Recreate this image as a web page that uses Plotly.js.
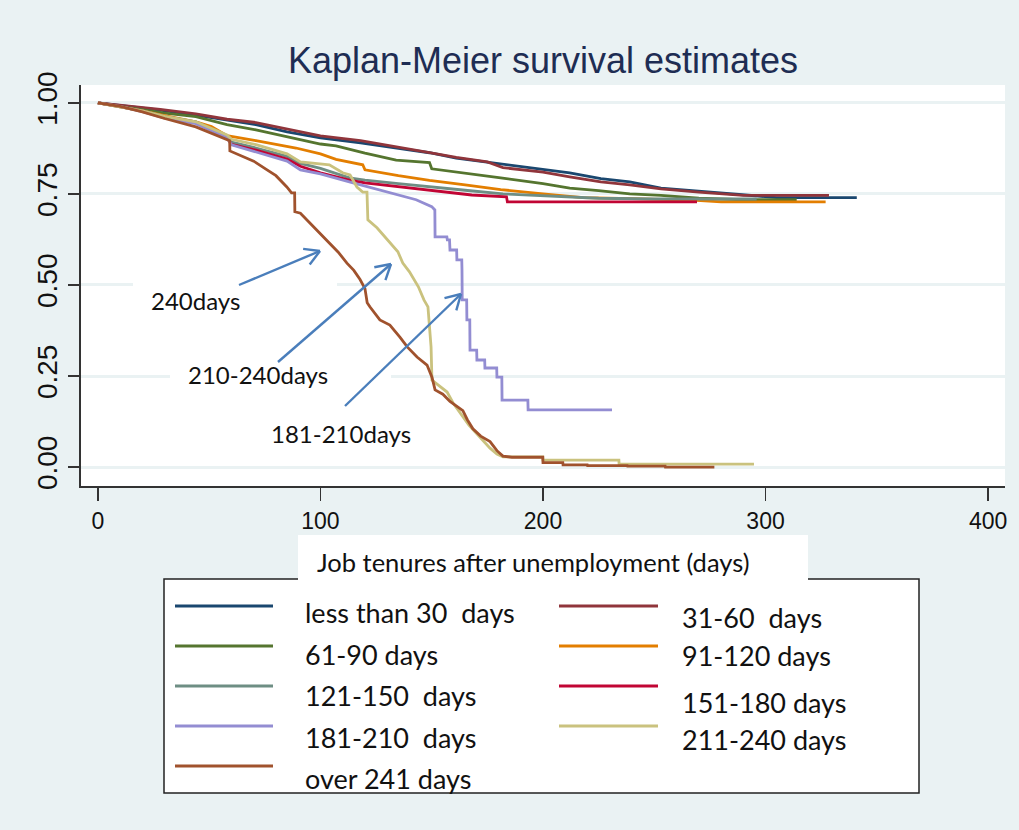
<!DOCTYPE html>
<html><head><meta charset="utf-8">
<script src="https://cdn.plot.ly/plotly-3.0.1.min.js"></script>
<style>html,body{margin:0;padding:0;background:#eaf2f3}</style>
</head><body>
<div id="chart" style="width:1019px;height:830px"></div>
<script>
// ---------- data (corners of visible steps are listed twice) ----------
const seriesNames = ["less than 30\u00a0 days","31-60\u00a0 days","61-90 days","91-120 days",
  "121-150\u00a0 days","151-180 days","181-210\u00a0 days","211-240 days","over 241 days"];
const seriesColors = ["#1a476f","#90353b","#55752f","#e37e00","#6e8e84","#c10534","#938dd2","#cac27e","#a0522d"];

const t_lt30 = [0,10,28,44,58,71,85,100,118,134,149,161,181,200,212,226,239,253,270,290,305,341];
const s_lt30 = [1,0.993,0.98,0.966,0.952,0.94,0.92,0.904,0.89,0.875,0.863,0.848,0.833,0.817,0.808,0.792,0.783,0.766,0.757,0.748,0.740,0.740];

const t_31_60 = [0,10,28,44,58,71,85,100,118,134,149,161,175,182,200,212,226,239,253,270,290,328.5];
const s_31_60 = [1,0.994,0.982,0.97,0.955,0.946,0.928,0.909,0.896,0.88,0.863,0.85,0.838,0.822,0.81,0.797,0.783,0.775,0.764,0.755,0.746,0.746];

const t_61_90 = [0,10,20,30,44,58,71,86,100,107,120,134,149,150,165,181,200,212,225,239,253,270,290,314];
const s_61_90 = [1,0.99,0.98,0.972,0.962,0.94,0.926,0.905,0.887,0.882,0.862,0.843,0.836,0.819,0.806,0.794,0.778,0.766,0.759,0.75,0.746,0.738,0.734,0.734];

const t_91_120 = [0,10,20,30,44,51,58,71,89,100,107,119,120,135,149,165,181,200,218,240,269,280,327];
const s_91_120 = [1,0.99,0.978,0.965,0.948,0.935,0.91,0.896,0.876,0.86,0.845,0.83,0.816,0.8,0.787,0.775,0.762,0.75,0.74,0.737,0.732,0.728,0.728];

const t_121_150 = [0,10,20,30,44,58,60,71,85,91,100,113,120,135,149,165,182,200,225,250,296];
const s_121_150 = [1,0.99,0.978,0.962,0.948,0.908,0.892,0.876,0.853,0.834,0.82,0.794,0.788,0.778,0.769,0.76,0.75,0.745,0.738,0.736,0.736];

const t_151_180 = [0,10,20,30,44,58,60,71,85,91,100,113,120,135,149,168,183.6,184,269.2];
const s_151_180 = [1,0.99,0.977,0.961,0.946,0.904,0.886,0.87,0.846,0.826,0.808,0.788,0.78,0.77,0.761,0.747,0.742,0.728,0.728];

const t_181_210 = [0,10,20,30,44,58,60,71,85,91,100,113,131,143,150,151.4,151.5,156.8,157,158,158.2,161.2,161.3,163.5,163.6,163.7,165.7,165.8,167.1,167.2,170.2,170.3,173.8,173.9,179.2,179.3,181.5,181.6,193.2,193.3,231];
const s_181_210 = [1,0.99,0.976,0.958,0.943,0.905,0.885,0.866,0.84,0.816,0.805,0.783,0.753,0.734,0.715,0.706,0.632,0.632,0.624,0.624,0.596,0.596,0.569,0.569,0.541,0.459,0.459,0.404,0.404,0.321,0.321,0.294,0.294,0.272,0.272,0.247,0.247,0.184,0.184,0.157,0.157];

const t_211_240 = [0,10,20,30,44,58,60,71,85,91,104,110,113.3,116.4,119,120.9,121,121.3,125.4,130.3,134.8,137,140,144,146.5,148.3,148.8,149.7,150.1,152.4,156.9,159.6,163.6,166.7,171.7,176.2,179.3,182,199.9,200,234.1,234.2,294.8];
const s_211_240 = [1,0.99,0.978,0.963,0.948,0.912,0.9,0.885,0.86,0.838,0.83,0.808,0.802,0.769,0.755,0.755,0.706,0.679,0.657,0.624,0.591,0.56,0.536,0.495,0.459,0.44,0.396,0.33,0.239,0.228,0.206,0.176,0.143,0.115,0.082,0.052,0.036,0.028,0.028,0.019,0.019,0.008,0.008];

const t_over241 = [0,10,20,30,44,52,58,59.2,59.3,63.8,70,76,80,84.9,87,88.4,88.5,91,95.3,100,104.3,108,111.9,115,117.8,120,121,122.2,126.7,131.2,135.7,139,143.4,147.9,150.1,151.5,155,158.2,164,166,168.5,172,176.2,179.3,182,186,199.9,200,208.9,209,219.9,220,237.9,238,254.9,255,277];
const s_over241 = [1,0.99,0.975,0.957,0.934,0.915,0.9,0.896,0.868,0.857,0.84,0.816,0.8,0.769,0.753,0.753,0.701,0.697,0.67,0.64,0.615,0.59,0.56,0.54,0.515,0.49,0.451,0.44,0.404,0.39,0.357,0.33,0.302,0.28,0.247,0.212,0.2,0.18,0.155,0.13,0.105,0.085,0.07,0.045,0.03,0.027,0.027,0.012,0.012,0.006,0.006,0.004,0.004,0.0025,0.0025,0,0];

const seriesT = [t_lt30,t_31_60,t_61_90,t_91_120,t_121_150,t_151_180,t_181_210,t_211_240,t_over241];
const seriesS = [s_lt30,s_31_60,s_61_90,s_91_120,s_121_150,s_151_180,s_181_210,s_211_240,s_over241];

const xTicks = [0,100,200,300,400];
const yTicks = [0,0.25,0.5,0.75,1];
const yTickText = ["0.00","0.25","0.50","0.75","1.00"];

const chartTitle = "Kaplan-Meier survival estimates";
const xTitle = "Job tenures after unemployment (days)";
const callouts = ["240days","210-240days","181-210days"];

// ---------- layout helpers (pixel -> paper) ----------
const L=81, R=1005, T=85, B=486;
const px = x => (x-L)/(R-L);
const py = y => (B-y)/(B-T);

const traces = seriesNames.map((n,i)=>({
  type:'scatter', mode:'lines', name:n, x:seriesT[i], y:seriesS[i],
  line:{color:seriesColors[i], width:2.8, shape:'linear'}, showlegend:false, hoverinfo:'skip'
}));

const shapes = [];
const annotations = [];

// white boxes behind callout texts (they hide the gridlines)
shapes.push({type:'rect', xref:'paper', yref:'paper', x0:px(133), x1:px(337), y0:py(322), y1:py(280),
  fillcolor:'white', line:{width:0}, layer:'above'});
shapes.push({type:'rect', xref:'paper', yref:'paper', x0:px(170), x1:px(391), y0:py(395), y1:py(355),
  fillcolor:'white', line:{width:0}, layer:'above'});

// legend box
shapes.push({type:'rect', xref:'paper', yref:'paper', x0:px(164), x1:px(919), y0:py(793), y1:py(579),
  fillcolor:'white', line:{color:'#222', width:1.5}});
// white box of axis title
shapes.push({type:'rect', xref:'paper', yref:'paper', x0:px(298), x1:px(808), y0:py(580.5), y1:py(535),
  fillcolor:'white', line:{width:0}});

const lineRows = [606,646,686,726,766];
const textRowsL = [612,654,695,737,778];
const textRowsR = [617,655,702,740];
seriesNames.forEach((n,i)=>{
  const col = i%2, row = Math.floor(i/2);
  const lx0 = col===0 ? 175 : 559, lx1 = col===0 ? 273 : 658;
  const ly = lineRows[row];
  shapes.push({type:'line', xref:'paper', yref:'paper', x0:px(lx0), x1:px(lx1), y0:py(ly), y1:py(ly),
    line:{color:seriesColors[i], width:3}});
  annotations.push({xref:'paper', yref:'paper', x:px(col===0?303:680), y:py(col===0?textRowsL[row]:textRowsR[row]),
    xanchor:'left', yanchor:'middle', showarrow:false, text:n,
    font:{family:'Lato, sans-serif', size:27, color:'#111'}});
});

// axis title
annotations.push({xref:'paper', yref:'paper', x:px(315), y:py(562), xanchor:'left', yanchor:'middle',
  showarrow:false, text:xTitle, font:{family:'Lato, sans-serif', size:25.5, color:'#111'}});

// callout texts
const calloutPos = [[44.0,0.456],[71.9,0.255],[109.2,0.093]];
callouts.forEach((c,i)=>annotations.push({xref:'x', yref:'y', x:calloutPos[i][0], y:calloutPos[i][1],
  showarrow:false, text:c, font:{family:'Lato, sans-serif', size:24, color:'#111'}}));

// arrows, in page pixels: [headX, headY, tailX, tailY]; open V heads drawn as two short lines
const arrowPix = [[320,251,239,285],[391,264,278,362],[461,294,345,406]];
const arrowColor = '#4a7ebb';
arrowPix.forEach(a=>{
  const [hx,hy,tx,ty] = a;
  shapes.push({type:'line', xref:'paper', yref:'paper', x0:px(tx), y0:py(ty), x1:px(hx), y1:py(hy),
    line:{color:arrowColor, width:2.4}});
  const len = Math.hypot(tx-hx, ty-hy), ux=(tx-hx)/len, uy=(ty-hy)/len;
  [Math.PI/6, -Math.PI/6].forEach(ang=>{
    const c=Math.cos(ang), s=Math.sin(ang);
    const ex = hx + 17*(ux*c - uy*s), ey = hy + 17*(ux*s + uy*c);
    shapes.push({type:'line', xref:'paper', yref:'paper', x0:px(hx), y0:py(hy), x1:px(ex), y1:py(ey),
      line:{color:arrowColor, width:2.4}});
  });
});

const layout = {
  width:1019, height:830,
  margin:{l:L, r:1019-R, t:T, b:830-B, pad:0},
  paper_bgcolor:'#eaf2f3', plot_bgcolor:'#ffffff',
  showlegend:false,
  title:{text:chartTitle, xref:'paper', x:0.5, xanchor:'center', yref:'container', y:1-60/830, yanchor:'middle',
    font:{family:'Liberation Sans, Arial, sans-serif', size:36, color:'#1e2d53'}},
  xaxis:{range:[-7.6,407.6], tickvals:xTicks, ticks:'outside', ticklen:13, tickwidth:1.5, tickcolor:'#333',
    showline:true, linecolor:'#333', linewidth:2, showgrid:false, zeroline:false,
    tickfont:{family:'Liberation Sans, Arial, sans-serif', size:23, color:'#111'}},
  yaxis:{range:[-0.052,1.049], tickvals:yTicks, ticktext:yTickText, tickangle:-90, ticks:'outside', ticklen:11,
    tickwidth:1.5, tickcolor:'#333', showline:true, linecolor:'#333', linewidth:2,
    showgrid:true, gridcolor:'#eaf2f3', gridwidth:3, zeroline:false,
    tickfont:{family:'Liberation Sans, Arial, sans-serif', size:28, color:'#111'}},
  shapes:shapes, annotations:annotations
};

Plotly.newPlot('chart', traces, layout, {staticPlot:true, displayModeBar:false});
</script>
</body></html>
